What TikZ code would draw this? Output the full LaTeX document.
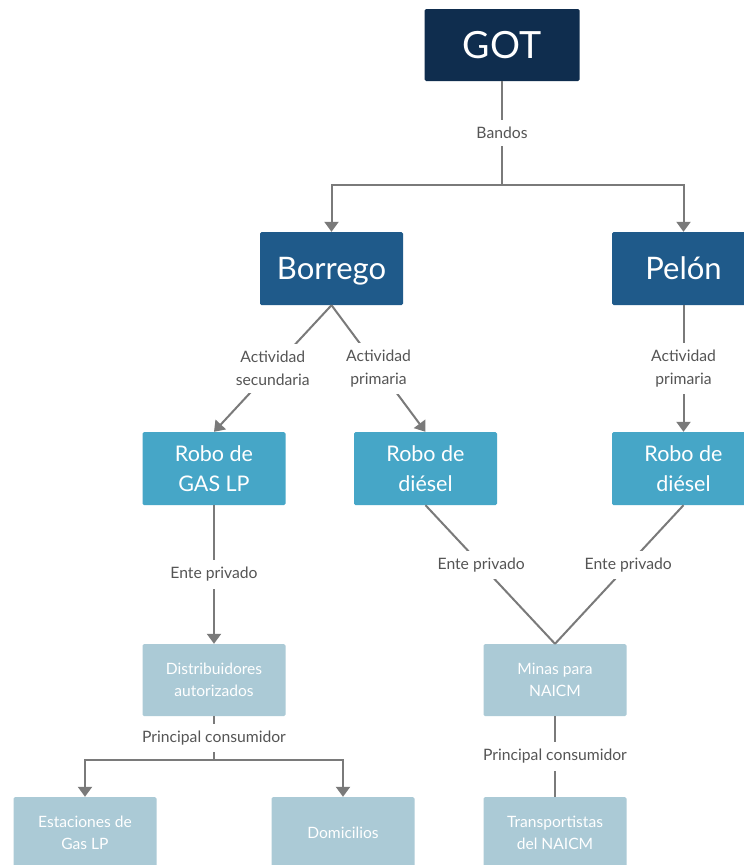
\documentclass[tikz,border=0pt]{standalone}
\usepackage{fontspec}
\setmainfont{Lato}
\usetikzlibrary{arrows.meta}
\definecolor{cgot}{HTML}{0F2D4E}
\definecolor{cband}{HTML}{1F5A8A}
\definecolor{crobo}{HTML}{46A6C7}
\definecolor{clight}{HTML}{ABCAD6}
\definecolor{cline}{HTML}{7A7A7A}
\definecolor{clbl}{HTML}{555555}
\tikzset{
  box/.style={rectangle, rounded corners=1.5pt, inner sep=0pt, align=center, text=white, minimum width=143pt, minimum height=73pt},
  gotbox/.style={box, fill=cgot, minimum width=155pt, minimum height=72pt, text height=27pt, text depth=0pt, font=\fontsize{37.5}{40}\selectfont},
  bandbox/.style={box, fill=cband, text height=22.3pt, text depth=0pt, font=\fontsize{31}{34}\selectfont},
  robobox/.style={box, fill=crobo, font=\fontsize{21.5}{30}\selectfont},
  lightbox/.style={box, fill=clight, minimum height=72pt, font=\fontsize{15.6}{22}\selectfont},
  conn/.style={draw=cline, line width=2pt},
  arr/.style={-{Triangle[width=14pt,length=10pt]}},
  lbl/.style={fill=white, text=clbl, align=center, inner xsep=4pt, inner ysep=7pt, font=\fontsize{15.7}{23}\selectfont},
}
\begin{document}
\begin{tikzpicture}[x=1pt,y=-1pt]
\useasboundingbox (0,0) rectangle (744,865);
\fill[white] (0,0) rectangle (744,865);
\clip (0,0) rectangle (744,865);
\node[gotbox] (got) at (502,45) {GOT};
\node[bandbox] (borrego) at (331.5,268.5) {Borrego};
\node[bandbox] (pelon) at (683.5,268.5) {Pelón};
\node[robobox] (gaslp) at (214,468.5) {Robo de\\GAS LP};
\node[robobox] (diesel1) at (425.5,468.5) {Robo de\\diésel};
\node[robobox] (diesel2) at (683.5,468.5) {Robo de\\diésel};
\node[lightbox] (distrib) at (214,680) {Distribuidores\\autorizados};
\node[lightbox] (minas) at (555,680) {Minas para\\NAICM};
\node[lightbox] (estac) at (85,833) {Estaciones de\\Gas LP};
\node[lightbox] (domic) at (343,833) {Domicilios};
\node[lightbox] (transp) at (555,833) {Transportistas\\del NAICM};
\coordinate (j1) at (502,185);
\coordinate (j2) at (214,760);
\draw[conn] (got.south) -- node[lbl]{Bandos} (j1);
\draw[conn,arr] (j1) -| (borrego.north);
\draw[conn,arr] (j1) -| (pelon.north);
\draw[conn,arr] (borrego.south) -- node[lbl]{Actividad\\secundaria} (gaslp.north);
\draw[conn,arr] (borrego.south) -- node[lbl]{Actividad\\primaria} (diesel1.north);
\draw[conn,arr] (pelon.south) -- node[lbl]{Actividad\\primaria} (diesel2.north);
\draw[conn,arr] (gaslp.south) -- node[lbl]{Ente privado} (distrib.north);
\draw[conn] (diesel1.south) -- node[lbl,pos=0.43]{Ente privado} (minas.north);
\draw[conn] (diesel2.south) -- node[lbl,pos=0.43]{Ente privado} (minas.north);
\draw[conn] (distrib.south) -- node[lbl]{Principal consumidor} (j2);
\draw[conn,arr] (j2) -| (estac.north);
\draw[conn,arr] (j2) -| (domic.north);
\draw[conn] (minas.south) -- node[lbl]{Principal consumidor} (transp.north);
\end{tikzpicture}
\end{document}
